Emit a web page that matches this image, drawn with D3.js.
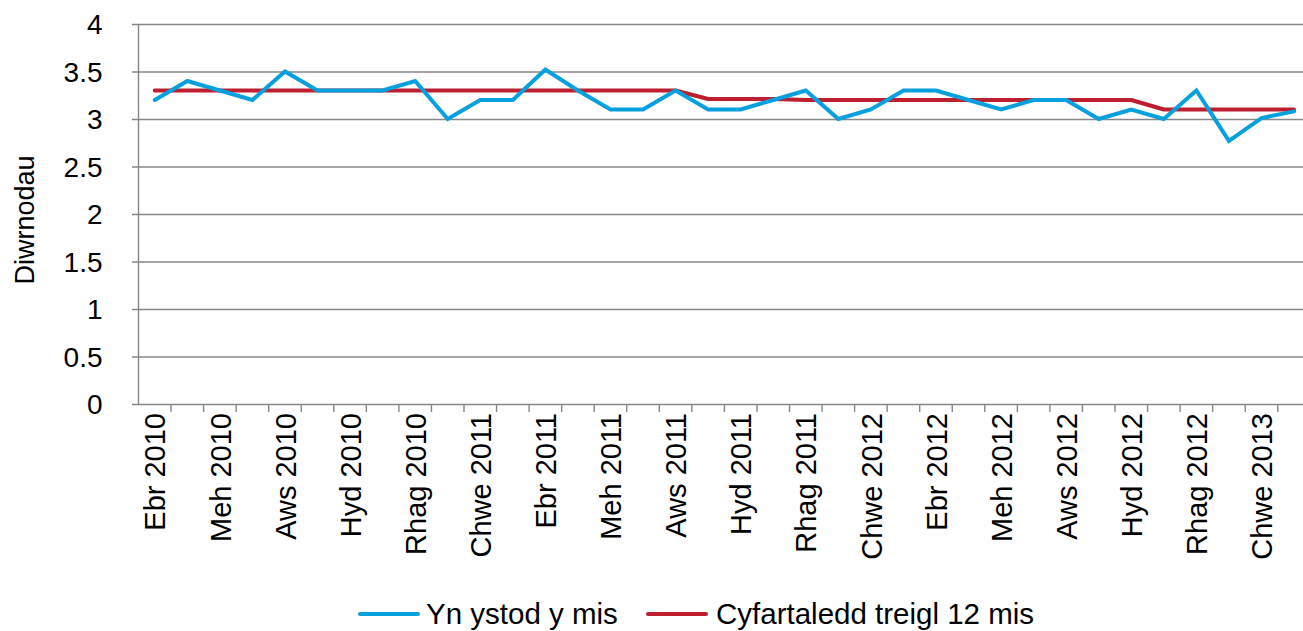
<!DOCTYPE html>
<html>
<head>
<meta charset="utf-8">
<script src="https://cdn.jsdelivr.net/npm/d3@7"></script>
<style>
  html, body { margin: 0; padding: 0; background: #fff; }
  svg { display: block; font-family: "Liberation Sans", Arial, sans-serif; }
</style>
</head>
<body>
<svg id="chart" width="1303" height="631"></svg>
<script>
const months = ["Ebr","Mai","Meh","Gor","Aws","Med","Hyd","Tach","Rhag","Ion","Chwe","Maw"];
const categories = [];
for (let i = 0; i < 36; i++) {
  const yr = 2010 + Math.floor((i + 3) / 12);
  categories.push(months[i % 12] + " " + yr);
}
const monthly = [3.2,3.4,3.3,3.2,3.5,3.3,3.3,3.3,3.4,3.0,3.2,3.2,
                 3.52,3.3,3.1,3.1,3.3,3.1,3.1,3.2,3.3,3.0,3.1,3.3,
                 3.3,3.2,3.1,3.2,3.2,3.0,3.1,3.0,3.3,2.77,3.01,3.08];
const rolling = [3.3,3.3,3.3,3.3,3.3,3.3,3.3,3.3,3.3,3.3,3.3,3.3,
                 3.3,3.3,3.3,3.3,3.3,3.21,3.21,3.21,3.2,3.2,3.2,3.2,
                 3.2,3.2,3.2,3.2,3.2,3.2,3.2,3.1,3.1,3.1,3.1,3.1];
const yTicks = [0,0.5,1,1.5,2,2.5,3,3.5,4];
const seriesNames = ["Yn ystod y mis","Cyfartaledd treigl 12 mis"];
const colors = ["#05A0DD","#BE1E2D"];

(function () {
const svg = d3.select("#chart");
const pL = 138.5, pR = 1310.3, pT = 24, pB = 404;
const fs = 29;

const x = d3.scaleBand().domain(categories).range([pL, pR]).paddingInner(0).paddingOuter(0);
const y = d3.scaleLinear().domain([0,4]).range([pB, pT]);
const cx = d => x(d) + x.bandwidth()/2;

// gridlines + y axis
const yAxis = d3.axisLeft(y).tickValues(yTicks).tickSize(-(pR - pL)).tickSizeOuter(0).tickPadding(0)
  .tickFormat(d => d);
const gy = svg.append("g").attr("transform", `translate(${pL},0)`).call(yAxis);
gy.select(".domain").remove();
gy.selectAll(".tick line").attr("stroke", "#878787").attr("stroke-width", 1.4).attr("x1", -6.5);
gy.selectAll(".tick text").attr("x", -36).attr("font-size", 28).attr("fill", "#000")
  .attr("font-family", "Liberation Sans, Arial, sans-serif").attr("dy", "0.35em");
svg.append("line").attr("x1", pL).attr("x2", pL).attr("y1", pT).attr("y2", pB)
  .attr("stroke", "#878787").attr("stroke-width", 1.4);

// x ticks at category boundaries
svg.append("g").selectAll("line").data(categories.slice(1).concat(["__end"]))
  .join("line")
  .attr("x1", (d,i) => i < 35 ? x(d) : pR)
  .attr("x2", (d,i) => i < 35 ? x(d) : pR)
  .attr("y1", pB).attr("y2", pB + 8)
  .attr("stroke", "#878787").attr("stroke-width", 1.4);

// x labels every 2 months
svg.append("g").selectAll("text").data(categories.filter((d,i) => i % 2 === 0))
  .join("text")
  .attr("transform", d => `translate(${cx(d) + 0.5},${pB + 9}) rotate(-90)`)
  .attr("text-anchor", "end").attr("dy", "0.35em")
  .attr("font-size", fs).attr("fill", "#000")
  .text(d => d);

// y title
svg.append("text").attr("transform", `translate(25,${(pT+pB)/2 + 6}) rotate(-90)`)
  .attr("text-anchor", "middle").attr("dy", "0.35em").attr("font-size", 27).text("Diwrnodau");

// lines
const line = d3.line().x((d,i) => cx(categories[i])).y(d => y(d));
svg.append("path").datum(rolling).attr("d", line).attr("fill", "none")
  .attr("stroke", colors[1]).attr("stroke-width", 4).attr("stroke-linecap", "round").attr("stroke-linejoin", "round");
svg.append("path").datum(monthly).attr("d", line).attr("fill", "none")
  .attr("stroke", colors[0]).attr("stroke-width", 4).attr("stroke-linecap", "round").attr("stroke-linejoin", "miter");

// legend
const legY = 614;
const legItems = [{x1: 360, x2: 418, tx: 426}, {x1: 648, x2: 706, tx: 716}];
legItems.forEach((L, i) => {
  svg.append("line").attr("x1", L.x1).attr("x2", L.x2).attr("y1", legY).attr("y2", legY)
    .attr("stroke", colors[i]).attr("stroke-width", 4).attr("stroke-linecap", "round");
  svg.append("text").attr("x", L.tx).attr("y", legY).attr("dy", "0.35em")
    .attr("font-size", 29.5).text(seriesNames[i]);
});
})();
</script>
</body>
</html>
